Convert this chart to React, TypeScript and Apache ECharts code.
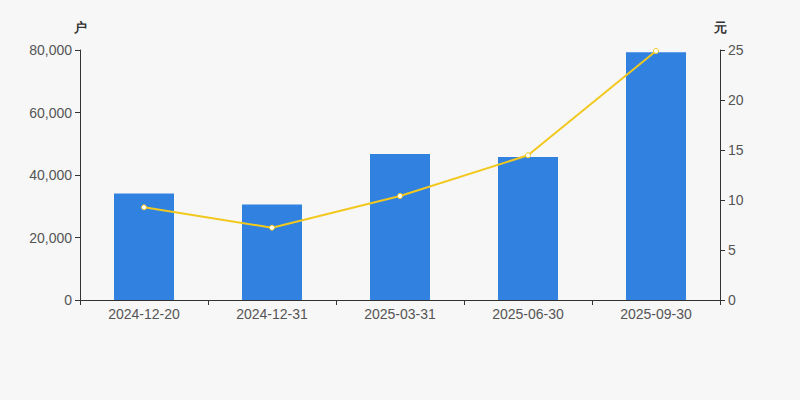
import React, { useEffect, useRef } from "react";
import * as echarts from "echarts";

const categories = ["2024-12-20", "2024-12-31", "2025-03-31", "2025-06-30", "2025-09-30"];
const holders = [34100, 30600, 46700, 45800, 79300];
const avgValue = [9.27, 7.23, 10.4, 14.47, 24.9];

export default function App() {
  const ref = useRef<HTMLDivElement>(null);
  useEffect(() => {
    document.body.style.margin = "0";
    document.body.style.background = "#f7f7f7";
    if (!ref.current) return;
    const chart = echarts.init(ref.current, undefined, { renderer: "svg" });
    const axisLabel = { color: "#555", fontSize: 14, fontFamily: "Liberation Sans, Arial, sans-serif" };
    chart.setOption({
      animation: false,
      backgroundColor: "#f7f7f7",
      grid: { left: 80, right: 80, top: 50, bottom: 100 },
      xAxis: {
        type: "category",
        data: categories,
        axisLine: { lineStyle: { color: "#333" } },
        axisTick: { show: true, length: 5, lineStyle: { color: "#333" } },
        axisLabel: { ...axisLabel, margin: 7 },
      },
      yAxis: [
        {
          type: "value",
          name: "户",
          nameGap: 16,
          nameTextStyle: { color: "#333", fontSize: 13, fontWeight: "bold", align: "center" },
          min: 0,
          max: 80000,
          interval: 20000,
          axisLine: { show: true, lineStyle: { color: "#333" } },
          axisTick: { show: true, length: 5, lineStyle: { color: "#333" } },
          axisLabel: { ...axisLabel, margin: 8, formatter: (v: number) => v.toLocaleString("en-US") },
          splitLine: { show: false },
        },
        {
          type: "value",
          name: "元",
          nameGap: 16,
          nameTextStyle: { color: "#333", fontSize: 13, fontWeight: "bold", align: "center" },
          min: 0,
          max: 25,
          interval: 5,
          position: "right",
          axisLine: { show: true, lineStyle: { color: "#333" } },
          axisTick: { show: true, length: 5, lineStyle: { color: "#333" } },
          axisLabel: { ...axisLabel, margin: 8 },
          splitLine: { show: false },
        },
      ],
      series: [
        {
          type: "bar",
          data: holders,
          barWidth: 60,
          itemStyle: { color: "#3182e0" },
        },
        {
          type: "line",
          yAxisIndex: 1,
          data: avgValue,
          symbol: "circle",
          symbolSize: 5,
          lineStyle: { color: "#f2c81e", width: 2 },
          itemStyle: { color: "#ffffff", borderColor: "#f2c81e", borderWidth: 1 },
        },
      ],
    });
    return () => chart.dispose();
  }, []);
  return <div ref={ref} style={{ width: 800, height: 400 }} />;
}
